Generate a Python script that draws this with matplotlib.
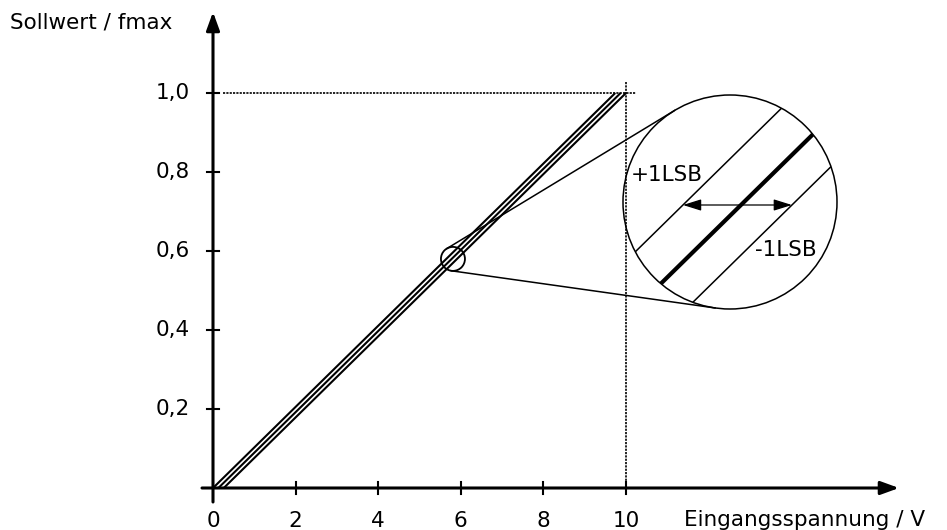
import numpy as np
import matplotlib
matplotlib.use("Agg")
import matplotlib.pyplot as plt
from matplotlib.patches import Ellipse

plt.rcParams['font.family'] = ['DejaVu Sans']

# ---- data ----
x_ticks = [2, 4, 6, 8, 10]
x_tick_labels = ['2', '4', '6', '8', '10']
origin_label = '0'
y_ticks = [0.2, 0.4, 0.6, 0.8, 1.0]
y_tick_labels = ['0,2', '0,4', '0,6', '0,8', '1,0']
line_start_x = [0.0, 0.13, 0.26]      # +1LSB, nominal, -1LSB
line_end_x = [9.74, 9.87, 10.0]
line_y = [0.0, 1.0]
x_max = 10
y_max = 1.0
zoom_point = (5.81, 0.58)
xlabel = 'Eingangsspannung / V'
ylabel = 'Sollwert / fmax'
plus_label = '+1LSB'
minus_label = '-1LSB'

# ---- layout (pixel geometry of the figure) ----
W, H = 947, 530
X0PX, Y0PX = 213, 488      # origin in image pixels
SX, SY = 41.3, 395.0       # pixels per data unit

def to_data(px, py):
    return (px - X0PX) / SX, (Y0PX - py) / SY

def to_px(xd, yd):
    return X0PX + xd * SX, Y0PX - yd * SY

fig = plt.figure(figsize=(W / 100, H / 100), dpi=100)
ax = fig.add_axes([0, 0, 1, 1])
ax.set_xlim(-X0PX / SX, (W - X0PX) / SX)
ax.set_ylim((Y0PX - H) / SY, Y0PX / SY)
ax.axis('off')

FS = 15.5

# axes with arrows
arrow_style = '-|>,head_length=0.55,head_width=0.2'
ax.annotate('', xy=to_data(899, Y0PX), xytext=to_data(202, Y0PX),
            arrowprops=dict(arrowstyle=arrow_style, lw=2.2, color='black',
                            mutation_scale=20, shrinkA=0, shrinkB=0))
ax.annotate('', xy=to_data(X0PX, 12), xytext=to_data(X0PX, 502),
            arrowprops=dict(arrowstyle=arrow_style, lw=2.2, color='black',
                            mutation_scale=20, shrinkA=0, shrinkB=0))

# ticks
tl = 6
for xt, lab in zip(x_ticks, x_tick_labels):
    px, _ = to_px(xt, 0)
    ax.plot(*zip(to_data(px, Y0PX - tl), to_data(px, Y0PX + tl)), color='black', lw=1.5)
    ax.text(xt, to_data(0, 521)[1], lab, ha='center', va='center', fontsize=FS)
ax.text(0, to_data(0, 521)[1], origin_label, ha='center', va='center', fontsize=FS)
for yt, lab in zip(y_ticks, y_tick_labels):
    _, py = to_px(0, yt)
    ax.plot(*zip(to_data(X0PX - tl, py), to_data(X0PX + tl, py)), color='black', lw=1.5)
    ax.text(to_data(190, 0)[0], yt, lab, ha='right', va='center', fontsize=FS)

# labels
ax.text(*to_data(10, 23), ylabel, ha='left', va='center', fontsize=FS)
ax.text(*to_data(684, 520), xlabel, ha='left', va='center', fontsize=FS)

# dotted reference lines
dot = (0, (1.3, 0.7))
ax.plot([to_data(223, 0)[0], to_data(636, 0)[0]], [y_max, y_max], color='black', lw=1.2, ls=dot)
ax.plot([x_max, x_max], [to_data(0, 82)[1], 0], color='black', lw=1.2, ls=dot)

# three characteristic lines
for xs, xe in zip(line_start_x, line_end_x):
    ax.plot([xs, xe], line_y, color='black', lw=1.5, solid_capstyle='butt')

# small circle
r1 = 12.0
c1 = np.array(to_px(*zoom_point))
ax.add_patch(Ellipse(zoom_point, 2 * r1 / SX, 2 * r1 / SY, fill=False, lw=1.3, ec='black'))

# big magnification circle
c2 = np.array([730.0, 202.0])
r2 = 107.0
big = Ellipse(to_data(*c2), 2 * r2 / SX, 2 * r2 / SY, fill=False, lw=1.1, ec='black')
ax.add_patch(big)

# external tangents (computed in pixel space, y down)
d = c2 - c1
L = np.hypot(*d)
dh = d / L
alpha = np.arccos((r1 - r2) / L)
for sgn in (1, -1):
    a = sgn * alpha
    n = np.array([dh[0] * np.cos(a) - dh[1] * np.sin(a),
                  dh[0] * np.sin(a) + dh[1] * np.cos(a)])
    p1 = c1 + r1 * n
    p2 = c2 + r2 * n
    q1, q2 = to_data(*p1), to_data(*p2)
    ax.plot([q1[0], q2[0]], [q1[1], q2[1]], color='black', lw=1.1)

# magnified lines inside big circle
dx_px = (line_end_x[1] - line_start_x[1]) * SX
dy_px = (line_y[1] - line_y[0]) * SY
u = np.array([dx_px, -dy_px]) / np.hypot(dx_px, dy_px)  # pixel direction (y down)
offsets = [-44, 14, 65]
widths = [1.1, 3.0, 1.1]
for off, lw in zip(offsets, widths):
    p = c2 + np.array([off, 0.0])
    a_ = p - 200 * u
    b_ = p + 200 * u
    qa, qb = to_data(*a_), to_data(*b_)
    ln, = ax.plot([qa[0], qb[0]], [qa[1], qb[1]], color='black', lw=lw)
    ln.set_clip_path(big)

# LSB arrow
ya = c2[1] + 3
def x_on(off, y):
    p = c2 + np.array([off, 0.0])
    t = (y - p[1]) / u[1]
    return p[0] + t * u[0]
xa1 = x_on(offsets[0], ya)
xa2 = x_on(offsets[2], ya)
ax.annotate('', xy=to_data(xa1, ya), xytext=to_data(xa2, ya),
            arrowprops=dict(arrowstyle='<|-|>,head_length=0.8,head_width=0.25', lw=0.9,
                            color='black', mutation_scale=14, shrinkA=0, shrinkB=0))

ax.text(*to_data(631, 175), plus_label, ha='left', va='center', fontsize=FS)
ax.text(*to_data(755, 250), minus_label, ha='left', va='center', fontsize=FS)

fig.savefig('out.png', dpi=100)
